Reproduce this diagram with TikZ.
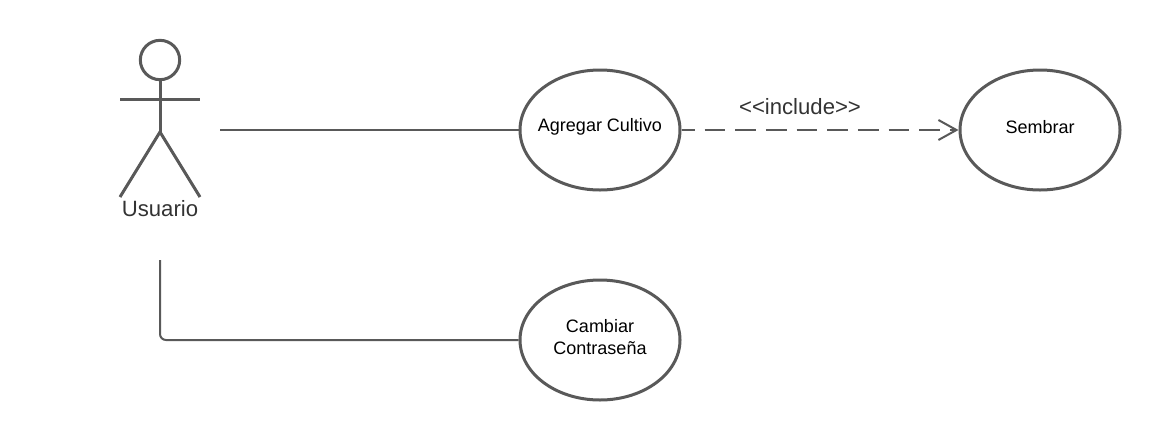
\documentclass[tikz,border=0pt]{standalone}
\usepackage{fontspec}
\setmainfont{Liberation Sans}
\usetikzlibrary{arrows.meta,shapes.geometric}
\definecolor{linegray}{HTML}{595959}
\definecolor{labelgray}{HTML}{333333}
\tikzset{
  x=0.75pt,y=-0.75pt,
  usecase/.style={draw=linegray,line width=2.25pt,ellipse,minimum width=120pt,minimum height=90pt,inner sep=0pt},
  uctext/.style={yshift=2.25pt,inner sep=0pt,align=center,text=black,font=\fontsize{13.5}{16.5}\selectfont},
  actorline/.style={draw=linegray,line width=2.25pt},
  assoc/.style={draw=linegray,line width=1.5pt},
  incl/.style={draw=linegray,line width=1.5pt,dash pattern=on 15.4pt off 7.6pt,dash phase=5.65pt,-{Straight Barb[length=13.5pt,width=15pt,line width=1.5pt]}},
  biglabel/.style={text=labelgray,inner sep=0pt,font=\fontsize{16.6}{19}\selectfont}
}
\begin{document}
\begin{tikzpicture}
\useasboundingbox[fill=white] (0,0) rectangle (1160,440);
\node[usecase,label={[uctext]center:Agregar Cultivo}] (agregar) at (600,130) {};
\node[usecase,label={[uctext]center:Sembrar}] (sembrar) at (1040,130) {};
\node[usecase,label={[uctext]center:{Cambiar\\Contraseña}}] (cambiar) at (600,340) {};
\node[circle,draw=linegray,line width=2.25pt,minimum size=29.5pt,inner sep=0pt] (head) at (160,60) {};
\coordinate (armL) at (120,99.5);
\coordinate (armR) at (200,99.5);
\coordinate (hip) at (160,132);
\coordinate (legL) at (120,197);
\coordinate (legR) at (200,197);
\draw[actorline] (head.south) -- (hip);
\draw[actorline] (armL) -- (armR);
\draw[actorline,line join=miter] (legL) -- (hip) -- (legR);
\node[biglabel] (usuario) at (160,209) {Usuario};
\coordinate (a1) at (220,130);
\coordinate (a2) at (160,260);
\coordinate (a2c) at (160,340);
\draw[assoc] (a1) -- (agregar.west);
\draw[assoc,rounded corners=4.5pt] (a2) -- (a2c) -- (cambiar.west);
\draw[incl] (agregar.east) -- (sembrar.west);
\node[biglabel] (inc) at (800,107) {<{}<include>{}>};
\end{tikzpicture}
\end{document}
